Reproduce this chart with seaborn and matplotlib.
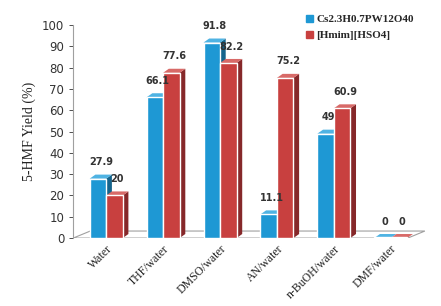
import matplotlib
matplotlib.use('Agg')

import numpy as np
import pandas as pd
import matplotlib.pyplot as plt
from matplotlib.patches import Polygon
import seaborn as sns

sns.set_theme(style="white")

# data
solvents = ['Water', 'THF/water', 'DMSO/water', 'AN/water', 'n-BuOH/water', 'DMF/water']
cs_yield = [27.9, 66.1, 91.8, 11.1, 49, 0]
hmim_yield = [20, 77.6, 82.2, 75.2, 60.9, 0]
series = ['Cs2.3H0.7PW12O40', '[Hmim][HSO4]']
y_ticks = [0, 10, 20, 30, 40, 50, 60, 70, 80, 90, 100]

df = pd.DataFrame({
    'solvent': solvents * 2,
    'yield': cs_yield + hmim_yield,
    'catalyst': [series[0]] * len(solvents) + [series[1]] * len(solvents),
})

front = {series[0]: '#1e98d4', series[1]: '#c8403f'}
side = {series[0]: '#15648c', series[1]: '#86282a'}
top = {series[0]: '#4fb3e3', series[1]: '#d86a68'}

fig = plt.figure(figsize=(4.41, 3.06), dpi=100)
ax = fig.add_axes([0.166, 0.222, 0.80, 0.696])

sns.barplot(data=df, x='solvent', y='yield', hue='catalyst', palette=front,
            width=0.58, dodge=True, ax=ax, legend=False, saturation=1)

# fake 3d: side and top faces from the drawn bars
dx, dy = 0.1, 1.9
for cont, name in zip(ax.containers, series):
    for bar in cont:
        x0 = bar.get_x()
        w = bar.get_width()
        h = bar.get_height()
        x1 = x0 + w
        if h == 0:
            bar.set_height(0.5)
        ax.add_patch(Polygon([(x1, 0), (x1 + dx, dy), (x1 + dx, h + dy), (x1, h)],
                             closed=True, facecolor=side[name], edgecolor='none', zorder=2))
        ax.add_patch(Polygon([(x0, h), (x0 + dx, h + dy), (x1 + dx, h + dy), (x1, h)],
                             closed=True, facecolor=top[name], edgecolor='none', zorder=2))
        bar.set_zorder(3)
        ax.text(x0 + w / 2 + dx / 2, h + dy + 3.5, f'{h:g}', ha='center', va='bottom',
                fontsize=7, color='#333333', fontweight='bold', zorder=5)

# floor
n = len(solvents)
xl, xr = -0.58, 5.3
ax.add_patch(Polygon([(xl, 0), (xl + 0.3, 3.3), (xr + 0.3, 3.3), (xr, 0)],
                     closed=True, facecolor='white', edgecolor='#a0a0a0', lw=0.8, zorder=1))

ax.set_xlim(xl, 5.62)
ax.set_ylim(0, 100)
ax.set_yticks(y_ticks)
ax.tick_params(axis='y', labelsize=8.5, colors='#333333', length=3, width=0.6, direction='out', left=True)
ax.tick_params(axis='x', length=0)
ax.set_xticks(range(n))
ax.set_xticklabels(solvents, rotation=45, ha='right', rotation_mode='anchor',
                   fontsize=8.5, family='Liberation Serif', color='#222222')
ax.set_xlabel('')
ax.set_ylabel('5-HMF Yield (%)', fontsize=10, family='Liberation Serif', color='#222222')

for s in ['top', 'right', 'bottom']:
    ax.spines[s].set_visible(False)
ax.spines['left'].set_color('#a0a0a0')
ax.spines['left'].set_linewidth(0.8)

handles = [plt.Rectangle((0, 0), 1, 1, color=front[s]) for s in series]
fig.legend(handles, series, loc='upper left', bbox_to_anchor=(0.672, 0.985), frameon=False,
           prop={'family': 'Liberation Serif', 'size': 8, 'weight': 'bold'},
           handlelength=0.6, handleheight=0.6, handletextpad=0.3, labelspacing=0.6)

fig.savefig('out.png', dpi=100)
